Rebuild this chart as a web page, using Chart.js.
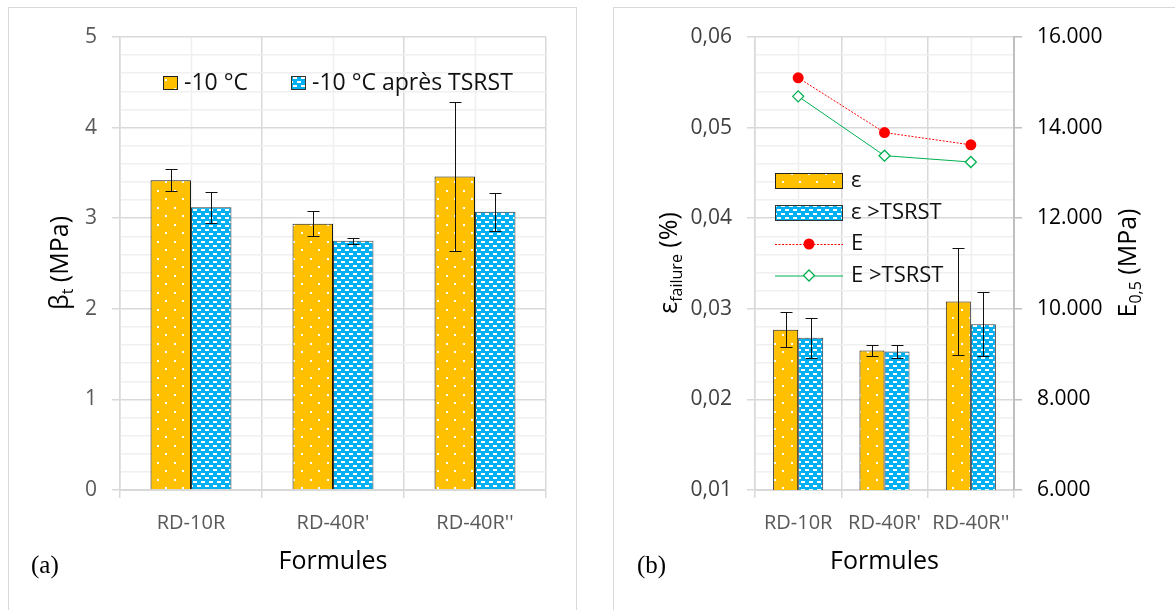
<!DOCTYPE html>
<html>
<head>
<meta charset="utf-8">
<script src="https://cdn.jsdelivr.net/npm/chart.js@4.4.1/dist/chart.umd.min.js"></script>
<style>
  body { margin: 0; background: #fff; }
  #wrap { position: relative; width: 1175px; height: 610px; overflow: hidden; background: #fff; }
  .frame { position: absolute; border: 1.5px solid #d9d9d9; }
  canvas { position: absolute; top: 0; }
</style>
</head>
<body>
<div id="wrap">
  <div class="frame" style="left:8px; top:7px; width:567px; height:640px;"></div>
  <div class="frame" style="left:613px; top:7px; width:600px; height:640px;"></div>
  <canvas id="chartA" width="600" height="610" style="left:0"></canvas>
  <canvas id="chartB" width="575" height="610" style="left:600px"></canvas>
</div>
<script>
// ---- data ----
const categories = ["RD-10R", "RD-40R'", "RD-40R''"];

// (a) tensile strength, MPa
const strengthCold = [3.42, 2.94, 3.46];
const strengthColdErr = [0.12, 0.14, 0.82];
const strengthTsrst = [3.12, 2.75, 3.07];
const strengthTsrstErr = [0.17, 0.03, 0.21];

// (b) failure strain (%) and modulus E0,5 (MPa)
const strainCold = [0.0277, 0.0254, 0.0308];
const strainColdErr = [0.0019, 0.00065, 0.0059];
const strainTsrst = [0.0268, 0.0253, 0.0283];
const strainTsrstErr = [0.0022, 0.0007, 0.0035];
const modulus = [15100, 13890, 13620];
const modulusTsrst = [14690, 13380, 13240];

const FONT = "'Open Sans', 'Noto Sans', sans-serif";
const YELLOW = '#FFC000';
const BLUE = '#00B0F0';

// fill patterns like the Excel ones
function dotPattern() {
  const c = document.createElement('canvas');
  c.width = 17; c.height = 17;
  const g = c.getContext('2d');
  g.fillStyle = YELLOW; g.fillRect(0, 0, 17, 17);
  g.fillStyle = '#fff';
  g.fillRect(4, 3, 2, 2);
  g.fillRect(12, 11, 2, 2);
  return g.createPattern(c, 'repeat');
}
function dashPattern() {
  const c = document.createElement('canvas');
  c.width = 8; c.height = 8;
  const g = c.getContext('2d');
  g.fillStyle = BLUE; g.fillRect(0, 0, 8, 8);
  g.fillStyle = '#fff';
  g.fillRect(1, 1, 4, 2);
  g.fillRect(5, 5, 4, 2);
  g.fillRect(-3, 5, 4, 2);
  return g.createPattern(c, 'repeat');
}
const yellowFill = dotPattern();
const blueFill = dashPattern();

// error bars on top of bars
const errorBars = {
  id: 'errorBars',
  afterDatasetsDraw(chart) {
    const ctx = chart.ctx;
    chart.data.datasets.forEach((ds, i) => {
      if (!ds.errors) return;
      const meta = chart.getDatasetMeta(i);
      const y = chart.scales[meta.yAxisID];
      ctx.save();
      ctx.strokeStyle = '#111';
      ctx.lineWidth = 1;
      meta.data.forEach((bar, j) => {
        const v = ds.data[j], e = ds.errors[j];
        const top = Math.round(y.getPixelForValue(v + e)) + 0.5;
        const bot = Math.round(y.getPixelForValue(v - e)) + 0.5;
        const x = Math.round(bar.x) + 0.5;
        ctx.beginPath();
        ctx.moveTo(x, top); ctx.lineTo(x, bot);
        ctx.moveTo(x - 6, top); ctx.lineTo(x + 6, top);
        ctx.moveTo(x - 6, bot); ctx.lineTo(x + 6, bot);
        ctx.stroke();
      });
      ctx.restore();
    });
  }
};

// light vertical lines through category centres
const minorVertical = {
  id: 'minorVertical',
  beforeDraw(chart) {
    const ctx = chart.ctx, a = chart.chartArea, xs = chart.scales.x;
    ctx.save();
    ctx.strokeStyle = '#efefef';
    ctx.lineWidth = 1.5;
    categories.forEach((c, i) => {
      const x = Math.round(xs.getPixelForValue(i)) + 0.5;
      ctx.beginPath(); ctx.moveTo(x, a.top); ctx.lineTo(x, a.bottom); ctx.stroke();
    });
    ctx.restore();
  }
};

// rotated title with a subscript
function rotatedTitle(ctx, cx, cy, main, sub, rest, size) {
  ctx.save();
  ctx.translate(cx, cy);
  ctx.rotate(-Math.PI / 2);
  ctx.fillStyle = '#000';
  ctx.textBaseline = 'middle';
  ctx.textAlign = 'left';
  const big = size + 'px ' + FONT, small = Math.round(size * 0.64) + 'px ' + FONT;
  ctx.font = big; const w1 = ctx.measureText(main).width, w3 = ctx.measureText(rest).width;
  ctx.font = small; const w2 = ctx.measureText(sub).width;
  let x = -(w1 + w2 + w3) / 2;
  ctx.font = big; ctx.fillText(main, x, 0); x += w1;
  ctx.font = small; ctx.fillText(sub, x, 7); x += w2;
  ctx.font = big; ctx.fillText(rest, x, 0);
  ctx.restore();
}

function text(ctx, s, x, y, font, color, align) {
  ctx.save();
  ctx.font = font; ctx.fillStyle = color;
  ctx.textAlign = align || 'left'; ctx.textBaseline = 'middle';
  ctx.fillText(s, x, y);
  ctx.restore();
}

function box(ctx, fill, stroke, x, y, w, h) {
  ctx.save();
  ctx.fillStyle = fill; ctx.fillRect(x, y, w, h);
  ctx.strokeStyle = stroke; ctx.lineWidth = 1;
  ctx.strokeRect(x + 0.5, y + 0.5, w - 1, h - 1);
  ctx.restore();
}

const isWhole = (v, unit) => Math.abs(v / unit - Math.round(v / unit)) < 1e-6;

// ---------- panel (a) ----------
const decorA = {
  id: 'decorA',
  afterDraw(chart) {
    const ctx = chart.ctx, a = chart.chartArea;
    rotatedTitle(ctx, 61, 263, 'β', 't', ' (MPa)', 25);
    text(ctx, 'Formules', (a.left + a.right) / 2, 562, '25px ' + FONT, '#000', 'center');
    text(ctx, '(a)', 31, 566, '25px "Liberation Serif", "Times New Roman", serif', '#000');
    box(ctx, yellowFill, '#222', 163, 76, 15, 14);
    text(ctx, '-10 °C', 184, 83, '23px ' + FONT, '#111');
    box(ctx, blueFill, '#333', 291, 76, 15, 14);
    text(ctx, '-10 °C après TSRST', 312, 83, '23px ' + FONT, '#111');
  }
};

new Chart(document.getElementById('chartA'), {
  type: 'bar',
  data: {
    labels: categories,
    datasets: [
      { label: '-10 °C', data: strengthCold, errors: strengthColdErr,
        backgroundColor: yellowFill, borderColor: '#1a1a1a', borderWidth: 1 },
      { label: '-10 °C après TSRST', data: strengthTsrst, errors: strengthTsrstErr,
        backgroundColor: blueFill, borderColor: '#3a3a3a', borderWidth: 1 }
    ]
  },
  plugins: [minorVertical, errorBars, decorA],
  options: {
    responsive: false,
    animation: false,
    devicePixelRatio: 1,
    layout: { padding: { top: 37, right: 54, left: 0, bottom: 0 } },
    categoryPercentage: 0.57,
    barPercentage: 1,
    plugins: { legend: { display: false }, tooltip: { enabled: false } },
    scales: {
      x: {
        offset: true,
        grid: { offset: true, color: '#d9d9d9', lineWidth: 1.5, tickLength: 8 },
        border: { color: '#d9d9d9', width: 2 },
        ticks: { color: '#595959', font: { family: FONT, size: 20 }, padding: 13, maxRotation: 0, autoSkip: false },
        afterFit(s) { s.height = 120; }
      },
      y: {
        min: 0, max: 5,
        grid: {
          color: c => isWhole(c.tick.value, 1) ? '#d9d9d9' : '#f0f0f0',
          lineWidth: 1.5,
          tickColor: c => isWhole(c.tick.value, 1) ? '#d9d9d9' : 'rgba(0,0,0,0)',
          tickLength: 8
        },
        border: { color: '#d9d9d9', width: 1.5 },
        ticks: {
          stepSize: 0.2, autoSkip: false,
          color: '#595959', font: { family: FONT, size: 21 }, padding: 15,
          callback: v => isWhole(v, 1) ? String(Math.round(v)) : ''
        },
        afterFit(s) { s.width = 120; }
      }
    }
  }
});

// ---------- panel (b) ----------
const decorB = {
  id: 'decorB',
  afterDraw(chart) {
    const ctx = chart.ctx, a = chart.chartArea;
    rotatedTitle(ctx, 70, 263, 'ε', 'failure', ' (%)', 25);
    rotatedTitle(ctx, 529, 263, 'E', '0,5', ' (MPa)', 25);
    text(ctx, 'Formules', (a.left + a.right) / 2, 562, '25px ' + FONT, '#000', 'center');
    text(ctx, '(b)', 37, 566, '25px "Liberation Serif", "Times New Roman", serif', '#000');

    const lx = 175, lw = 68, tx = 251;
    const rows = [181, 213, 244, 275.5];
    const f = '22px ' + FONT;
    box(ctx, yellowFill, '#222', lx, rows[0] - 8, lw, 16);
    text(ctx, 'ε', tx, rows[0], f, '#111');
    box(ctx, blueFill, '#333', lx, rows[1] - 8, lw, 16);
    text(ctx, 'ε >TSRST', tx, rows[1], f, '#111');

    ctx.save();
    ctx.lineWidth = 1;
    ctx.strokeStyle = '#ff0000';
    ctx.setLineDash([2, 1.5]);
    ctx.beginPath(); ctx.moveTo(lx, rows[2] + 0.5); ctx.lineTo(lx + lw, rows[2] + 0.5); ctx.stroke();
    ctx.setLineDash([]);
    ctx.fillStyle = '#ff0000';
    ctx.beginPath(); ctx.arc(lx + lw / 2, rows[2], 5.5, 0, Math.PI * 2); ctx.fill();
    ctx.strokeStyle = '#00B050';
    ctx.beginPath(); ctx.moveTo(lx, rows[3] + 0.5); ctx.lineTo(lx + lw, rows[3] + 0.5); ctx.stroke();
    const dx = lx + lw / 2, dy = rows[3], r = 5.5;
    ctx.fillStyle = '#fff'; ctx.lineWidth = 1.3;
    ctx.beginPath(); ctx.moveTo(dx, dy - r); ctx.lineTo(dx + r, dy); ctx.lineTo(dx, dy + r); ctx.lineTo(dx - r, dy); ctx.closePath();
    ctx.fill(); ctx.stroke();
    ctx.restore();
    text(ctx, 'E', tx, rows[2], f, '#111');
    text(ctx, 'E >TSRST', tx, rows[3], f, '#111');
  }
};

new Chart(document.getElementById('chartB'), {
  type: 'bar',
  data: {
    labels: categories,
    datasets: [
      { label: 'ε', data: strainCold, errors: strainColdErr, yAxisID: 'y',
        backgroundColor: yellowFill, borderColor: '#1a1a1a', borderWidth: 1 },
      { label: 'ε >TSRST', data: strainTsrst, errors: strainTsrstErr, yAxisID: 'y',
        backgroundColor: blueFill, borderColor: '#3a3a3a', borderWidth: 1 },
      { type: 'line', label: 'E', data: modulus, yAxisID: 'y2',
        borderColor: '#ff0000', borderWidth: 1, borderDash: [2, 1.5],
        pointStyle: 'circle', pointRadius: 5.5, pointBackgroundColor: '#ff0000', pointBorderColor: '#ff0000', pointBorderWidth: 0 },
      { type: 'line', label: 'E >TSRST', data: modulusTsrst, yAxisID: 'y2',
        borderColor: '#00B050', borderWidth: 1,
        pointStyle: 'rectRot', pointRadius: 5.5, pointBackgroundColor: '#fff', pointBorderColor: '#00B050', pointBorderWidth: 1.3 }
    ]
  },
  plugins: [minorVertical, errorBars, decorB],
  options: {
    responsive: false,
    animation: false,
    devicePixelRatio: 1,
    layout: { padding: { top: 37, right: 0, left: 0, bottom: 0 } },
    categoryPercentage: 0.58,
    barPercentage: 1,
    plugins: { legend: { display: false }, tooltip: { enabled: false } },
    scales: {
      x: {
        offset: true,
        grid: { offset: true, color: '#d9d9d9', lineWidth: 1.5, tickLength: 8 },
        border: { color: '#d9d9d9', width: 2 },
        ticks: { color: '#595959', font: { family: FONT, size: 20 }, padding: 13, maxRotation: 0, autoSkip: false },
        afterFit(s) { s.height = 120; }
      },
      y: {
        position: 'left',
        min: 0.01, max: 0.06,
        grid: {
          color: c => isWhole(c.tick.value, 0.01) ? '#d9d9d9' : '#f0f0f0',
          lineWidth: 1.5,
          tickColor: c => isWhole(c.tick.value, 0.01) ? '#d9d9d9' : 'rgba(0,0,0,0)',
          tickLength: 8
        },
        border: { color: '#d9d9d9', width: 1.5 },
        ticks: {
          stepSize: 0.002, autoSkip: false,
          color: '#404040', font: { family: FONT, size: 21 }, padding: 15,
          callback: v => isWhole(v, 0.01) ? v.toFixed(2).replace('.', ',') : ''
        },
        afterFit(s) { s.width = 155; }
      },
      y2: {
        position: 'right',
        min: 6000, max: 16000,
        grid: { drawOnChartArea: false, color: '#bfbfbf', tickLength: 8, lineWidth: 1.5 },
        border: { color: '#bfbfbf', width: 2 },
        ticks: {
          stepSize: 2000,
          color: '#000', font: { family: FONT, size: 21 }, padding: 15,
          callback: v => String(v).replace(/\B(?=(\d{3})+(?!\d))/g, '.')
        },
        afterFit(s) { s.width = 161; }
      }
    }
  }
});
</script>
</body>
</html>
